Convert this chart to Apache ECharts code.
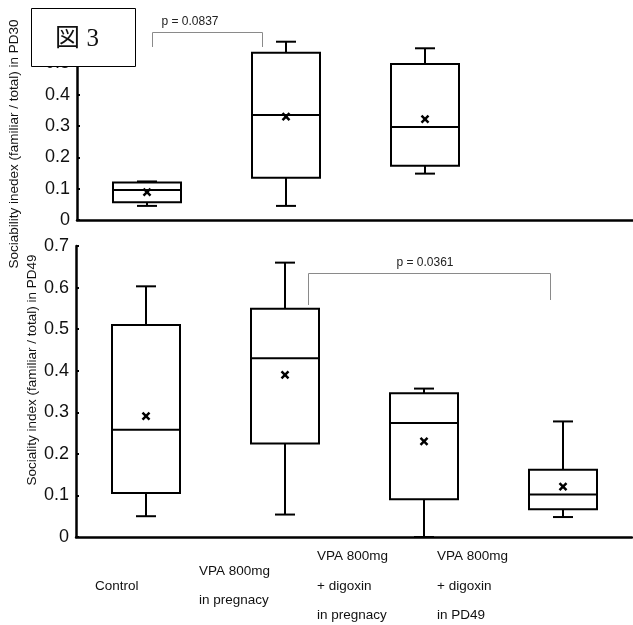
<!DOCTYPE html>
<html>
<head>
<meta charset="utf-8">
<script src="https://cdn.jsdelivr.net/npm/echarts@6/dist/echarts.min.js"></script>
<style>
  html, body { margin: 0; padding: 0; background: #fff; }
  #main { width: 633px; height: 625px; }
</style>
</head>
<body>
<div id="main"></div>
<script>
// groups (x axis)
const categories = ['Control', 'VPA 800mg in pregnacy', 'VPA 800mg + digoxin in pregnacy', 'VPA 800mg + digoxin in PD49'];
const xLabelLines = [
  ['Control'],
  ['VPA 800mg', 'in pregnacy'],
  ['VPA 800mg', '+ digoxin', 'in pregnacy'],
  ['VPA 800mg', '+ digoxin', 'in PD49']
];

// PD30 (top panel, only 3 groups)
const pd30Min    = [0.045, 0.045, 0.148];
const pd30Q1     = [0.057, 0.135, 0.173];
const pd30Median = [0.096, 0.335, 0.297];
const pd30Q3     = [0.120, 0.534, 0.498];
const pd30Max    = [0.123, 0.569, 0.548];
const pd30Mean   = [0.089, 0.330, 0.322];

// PD49 (bottom panel)
const pd49Min    = [0.050, 0.054, 0.000, 0.048];
const pd49Q1     = [0.106, 0.225, 0.091, 0.067];
const pd49Median = [0.258, 0.430, 0.274, 0.102];
const pd49Q3     = [0.510, 0.549, 0.346, 0.162];
const pd49Max    = [0.603, 0.660, 0.357, 0.278];
const pd49Mean   = [0.291, 0.390, 0.230, 0.121];

const yTicks30 = { min: 0, max: 0.6, interval: 0.1 };
const yTicks49 = { min: 0, max: 0.7, interval: 0.1 };

const pTop = 'p = 0.0837';
const pBottom = 'p = 0.0361';

const FONT = '"Liberation Sans", Arial, sans-serif';

function rows(mins, q1, med, q3, maxs, means) {
  return mins.map((v, i) => [i, v, q1[i], med[i], q3[i], maxs[i], means[i]]);
}

// box + whiskers + mean cross, drawn through the axes
function renderBox(params, api) {
  const cat = api.value(0);
  const p = k => api.coord([cat, api.value(k)]);
  const lo = p(1), q1 = p(2), med = p(3), q3 = p(4), hi = p(5), mean = p(6);
  const x = Math.round(lo[0]);
  const hw = 34, cw = 10, mw = 3.5;
  const st = { stroke: '#000', lineWidth: 2, fill: null };
  const line = (x1, y1, x2, y2, s) => ({ type: 'line', shape: { x1, y1, x2, y2 }, style: s || st });
  return {
    type: 'group',
    children: [
      line(x, hi[1], x, q3[1]),
      line(x - cw, hi[1], x + cw, hi[1]),
      line(x, q1[1], x, lo[1]),
      line(x - cw, lo[1], x + cw, lo[1]),
      { type: 'rect', shape: { x: x - hw, y: q3[1], width: hw * 2, height: q1[1] - q3[1] },
        style: { stroke: '#000', lineWidth: 2, fill: '#fff' } },
      line(x - hw, med[1], x + hw, med[1]),
      line(x - mw, mean[1] - mw, x + mw, mean[1] + mw, { stroke: '#000', lineWidth: 2.5 }),
      line(x - mw, mean[1] + mw, x + mw, mean[1] - mw, { stroke: '#000', lineWidth: 2.5 })
    ]
  };
}

function yAxisOf(ticks, grid) {
  return {
    type: 'value', gridIndex: grid,
    min: ticks.min, max: ticks.max, interval: ticks.interval,
    axisLine: { show: true, lineStyle: { color: '#000', width: 2.5 } },
    axisTick: { show: true, inside: true, length: 3, lineStyle: { color: '#000', width: 2 } },
    axisLabel: { color: '#111', fontSize: 18, fontFamily: FONT, margin: 7 },
    splitLine: { show: false }
  };
}

function xAxisOf(grid) {
  return {
    type: 'category', gridIndex: grid, data: categories, boundaryGap: true,
    axisLine: { show: true, lineStyle: { color: '#000', width: 2.5 } },
    axisTick: { show: false },
    axisLabel: { show: false }
  };
}

const graphics = [];
// group labels under the bottom panel
const labelLeft = [95, 199, 317, 437];
xLabelLines.forEach((lines, i) => {
  graphics.push({
    type: 'text', left: labelLeft[i], top: 586 - lines.length * 29.5 / 2,
    style: { text: lines.join('\n'), font: '13.5px ' + FONT, fill: '#111', lineHeight: 29.5 }
  });
});
// y axis titles
graphics.push({
  type: 'text', x: 14, y: 144, rotation: Math.PI / 2,
  style: { text: 'Sociability inedex (familiar / total) in PD30', font: '13.5px ' + FONT, fill: '#111',
    align: 'center', verticalAlign: 'middle' }
});
graphics.push({
  type: 'text', x: 32, y: 370, rotation: Math.PI / 2,
  style: { text: 'Sociality index (familiar / total) in PD49', font: '13.5px ' + FONT, fill: '#111',
    align: 'center', verticalAlign: 'middle' }
});
// significance brackets
graphics.push({
  type: 'polyline', shape: { points: [[152.5, 47], [152.5, 32.5], [262.5, 32.5], [262.5, 47]] },
  style: { stroke: '#8a8a8a', lineWidth: 1, fill: null }
});
graphics.push({
  type: 'text', x: 190, y: 22,
  style: { text: pTop, font: '12px ' + FONT, fill: '#222', align: 'center', verticalAlign: 'middle' }
});
graphics.push({
  type: 'polyline', shape: { points: [[308.5, 305], [308.5, 273.5], [550.5, 273.5], [550.5, 300]] },
  style: { stroke: '#8a8a8a', lineWidth: 1, fill: null }
});
graphics.push({
  type: 'text', x: 425, y: 263,
  style: { text: pBottom, font: '12px ' + FONT, fill: '#222', align: 'center', verticalAlign: 'middle' }
});
// figure tag box, drawn above the axis labels
graphics.push({
  type: 'rect', zlevel: 1, z: 100, shape: { x: 31.5, y: 8.5, width: 104, height: 58 },
  style: { fill: '#fff', stroke: '#000', lineWidth: 1 }
});
graphics.push({
  type: 'text', zlevel: 1, z: 101, x: 77, y: 39,
  style: { text: '図 3', font: '25px "Liberation Serif", "Noto Sans CJK JP", serif', fill: '#111',
    align: 'center', verticalAlign: 'middle' }
});

const chart = echarts.init(document.getElementById('main'), null, { renderer: 'canvas' });
chart.setOption({
  backgroundColor: '#fff',
  animation: false,
  grid: [
    { left: 77, top: 32, width: 568, height: 188 },
    { left: 76, top: 246, width: 556, height: 291 }
  ],
  xAxis: [xAxisOf(0), xAxisOf(1)],
  yAxis: [yAxisOf(yTicks30, 0), yAxisOf(yTicks49, 1)],
  series: [
    {
      type: 'custom', xAxisIndex: 0, yAxisIndex: 0, renderItem: renderBox,
      encode: { x: 0, y: [1, 2, 3, 4, 5, 6] },
      data: rows(pd30Min, pd30Q1, pd30Median, pd30Q3, pd30Max, pd30Mean)
    },
    {
      type: 'custom', xAxisIndex: 1, yAxisIndex: 1, renderItem: renderBox,
      encode: { x: 0, y: [1, 2, 3, 4, 5, 6] },
      data: rows(pd49Min, pd49Q1, pd49Median, pd49Q3, pd49Max, pd49Mean)
    }
  ],
  graphic: graphics
});
</script>
</body>
</html>
